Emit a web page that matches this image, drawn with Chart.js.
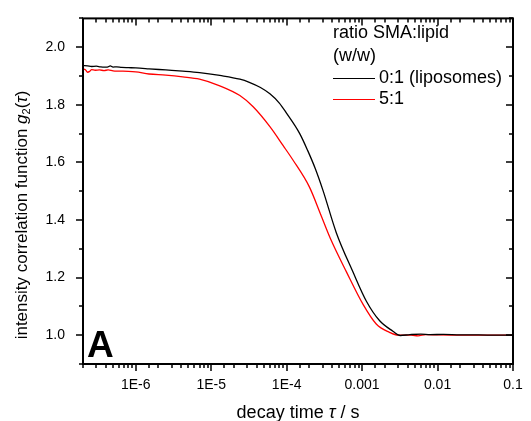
<!DOCTYPE html>
<html>
<head>
<meta charset="utf-8">
<script src="https://cdn.jsdelivr.net/npm/chart.js@4.4.1/dist/chart.umd.min.js"></script>
<style>
  html, body { margin: 0; padding: 0; background: #fff; }
  #wrap { width: 531px; height: 421px; }
</style>
</head>
<body>
<div id="wrap"><canvas id="c"></canvas></div>
<script>
// g2(tau) curves: black = 0:1 (liposomes), red = 5:1
var tauBlack = [2.0e-7, 2.3e-7, 2.6e-7, 3.0e-7, 3.4e-7, 3.8e-7, 4.2e-7, 4.6e-7, 5.0e-7, 5.6e-7,
  6.5e-7, 8e-7, 1.0e-6, 1.5e-6, 2.5e-6, 4.2e-6, 7e-6, 1.3e-5, 2.4e-5, 3.2e-5,
  4.5e-5, 6e-5, 8e-5, 9.9e-5, 1.49e-4, 1.91e-4, 2.4e-4, 3.03e-4, 4.55e-4, 7.55e-4, 1.14e-3,
  1.71e-3, 2.56e-3, 3.2e-3, 4.3e-3, 6e-3, 8e-3, 0.012, 0.02, 0.035, 0.06, 0.1];
var g2Black = [1.936, 1.935, 1.933, 1.934, 1.932, 1.931, 1.931, 1.935, 1.931, 1.932,
  1.930, 1.929, 1.928, 1.925, 1.921, 1.917, 1.912, 1.902, 1.889, 1.878,
  1.860, 1.838, 1.806, 1.772, 1.700, 1.640, 1.578, 1.503, 1.356, 1.220, 1.118,
  1.050, 1.014, 0.999, 1.002, 1.004, 1.002, 1.003, 1.001, 1.001, 1.000, 1.000];

var tauRed = [2.0e-7, 2.15e-7, 2.3e-7, 2.45e-7, 2.6e-7, 2.9e-7, 3.3e-7, 3.8e-7, 4.3e-7, 5e-7,
  6e-7, 8e-7, 1.0e-6, 1.5e-6, 2.5e-6, 4.2e-6, 7e-6, 1.3e-5, 2.4e-5, 3.6e-5,
  6e-5, 9e-5, 1.2e-4, 2.0e-4, 2.8e-4, 3.8e-4, 6.2e-4, 1.03e-3, 1.54e-3, 2.31e-3, 3.0e-3,
  4.5e-3, 5.5e-3, 7e-3, 0.01, 0.02, 0.04, 0.1];
var g2Red = [1.925, 1.922, 1.913, 1.916, 1.922, 1.920, 1.921, 1.919, 1.921, 1.918,
  1.917, 1.916, 1.914, 1.907, 1.903, 1.897, 1.889, 1.866, 1.832, 1.793,
  1.724, 1.658, 1.610, 1.515, 1.422, 1.336, 1.220, 1.107, 1.039, 1.010, 1.000,
  1.000, 0.998, 1.002, 1.001, 1.000, 1.000, 1.000];

var seriesLabels = ['0:1 (liposomes)', '5:1'];
var seriesColors = ['#000000', '#ff0000'];
var legendTitle = ['ratio SMA:lipid', '(w/w)'];

var xDecades = [1e-6, 1e-5, 1e-4, 1e-3, 1e-2, 1e-1];
var xTickLabels = ['1E-6', '1E-5', '1E-4', '0.001', '0.01', '0.1'];
var yTickLabels = ['1.0', '1.2', '1.4', '1.6', '1.8', '2.0'];

var X_MIN = 2e-7, X_MAX = 0.1, Y_MIN = 0.9, Y_MAX = 2.1;
var FONT = "'Liberation Sans', Arial, sans-serif";

function toPoints(xs, ys) {
  var out = [];
  for (var i = 0; i < xs.length; i++) out.push({ x: xs[i], y: ys[i] });
  return out;
}

function isDecade(v) {
  var l = Math.log10(v);
  return Math.abs(l - Math.round(l)) < 1e-6;
}

function drawParts(g, parts, cx, cy) {
  var total = 0;
  parts.forEach(function (p) { g.font = p.f; total += g.measureText(p.t).width; });
  var x = cx - total / 2;
  g.textAlign = 'left';
  g.textBaseline = 'middle';
  parts.forEach(function (p) {
    g.font = p.f;
    g.fillText(p.t, x, cy + (p.dy || 0));
    x += g.measureText(p.t).width;
  });
}

// frame, mirrored ticks, axis titles, legend and panel letter
var decorPlugin = {
  id: 'decor',
  afterDraw: function (chart) {
    var g = chart.ctx;
    var a = chart.chartArea;
    var xs = chart.scales.x, ys = chart.scales.y;
    g.save();
    g.strokeStyle = '#000000';
    g.lineWidth = 2;
    g.strokeRect(a.left, a.top, a.right - a.left, a.bottom - a.top);

    g.lineWidth = 1.5;
    xs.ticks.forEach(function (t) {
      var v = t.value;
      if (v < X_MIN || v > X_MAX) return;
      var px = Math.round(xs.getPixelForValue(v));
      var len = isDecade(v) ? 7 : 4;
      g.beginPath();
      g.moveTo(px, a.bottom); g.lineTo(px, a.bottom + len);
      g.moveTo(px, a.top); g.lineTo(px, a.top + len);
      g.stroke();
    });
    ys.ticks.forEach(function (t) {
      var v = t.value;
      if (v < Y_MIN - 1e-9 || v > Y_MAX + 1e-9) return;
      var py = Math.round(ys.getPixelForValue(v));
      var len = Math.round(v * 10) % 2 === 0 ? 7 : 4;
      g.beginPath();
      g.moveTo(a.left, py); g.lineTo(a.left - len, py);
      g.moveTo(a.right, py); g.lineTo(a.right - len, py);
      g.stroke();
    });

    g.fillStyle = '#000';
    drawParts(g, [
      { t: 'decay time ', f: '18px ' + FONT },
      { t: '\u03c4', f: 'italic 18px ' + FONT },
      { t: ' / s', f: '18px ' + FONT }
    ], (a.left + a.right) / 2, 413);

    g.save();
    g.translate(22, 215);
    g.rotate(-Math.PI / 2);
    drawParts(g, [
      { t: 'intensity correlation function ', f: '17px ' + FONT },
      { t: 'g', f: 'italic 17px ' + FONT },
      { t: '2', f: '11px ' + FONT, dy: 5 },
      { t: '(', f: '17px ' + FONT },
      { t: '\u03c4', f: 'italic 17px ' + FONT },
      { t: ')', f: '17px ' + FONT }
    ], 0, 0);
    g.restore();

    // legend inside plot
    g.textBaseline = 'middle';
    g.textAlign = 'left';
    g.font = '18px ' + FONT;
    g.fillText(legendTitle[0], 333, 33);
    g.fillText(legendTitle[1], 333, 56);
    var rows = [78, 99];
    for (var i = 0; i < seriesLabels.length; i++) {
      g.strokeStyle = seriesColors[i];
      g.lineWidth = 1.2;
      g.beginPath();
      g.moveTo(333, rows[i] + 0.5);
      g.lineTo(375, rows[i] + 0.5);
      g.stroke();
      g.fillText(seriesLabels[i], 379, rows[i]);
    }

    g.font = 'bold 37px ' + FONT;
    g.textBaseline = 'alphabetic';
    g.fillText('A', 87, 357);
    g.restore();
  }
};

new Chart(document.getElementById('c'), {
  type: 'line',
  data: {
    datasets: [
      {
        label: seriesLabels[1],
        data: toPoints(tauRed, g2Red),
        borderColor: seriesColors[1],
        borderWidth: 1.3,
        pointRadius: 0,
        cubicInterpolationMode: 'monotone',
        fill: false,
        order: 2
      },
      {
        label: seriesLabels[0],
        data: toPoints(tauBlack, g2Black),
        borderColor: seriesColors[0],
        borderWidth: 1.3,
        pointRadius: 0,
        cubicInterpolationMode: 'monotone',
        fill: false,
        order: 1
      }
    ]
  },
  options: {
    responsive: true,
    maintainAspectRatio: false,
    animation: false,
    layout: { padding: { left: 0, right: 18, top: 12, bottom: 0 } },
    plugins: {
      legend: { display: false },
      tooltip: { enabled: false }
    },
    scales: {
      x: {
        type: 'logarithmic',
        min: X_MIN,
        max: X_MAX,
        grid: { display: false },
        border: { display: false },
        ticks: {
          autoSkip: false,
          maxRotation: 0,
          padding: 5,
          color: '#000',
          font: { family: FONT, size: 14 },
          callback: function (value) {
            for (var i = 0; i < xDecades.length; i++) {
              if (Math.abs(Math.log10(value) - Math.log10(xDecades[i])) < 1e-6) return xTickLabels[i];
            }
            return '';
          }
        },
        afterFit: function (scale) { scale.height = 57; }
      },
      y: {
        type: 'linear',
        min: Y_MIN,
        max: Y_MAX,
        grid: { display: false },
        border: { display: false },
        ticks: {
          stepSize: 0.1,
          autoSkip: false,
          padding: 10,
          color: '#000',
          font: { family: FONT, size: 14 },
          callback: function (value) {
            var s = Number(value).toFixed(1);
            return yTickLabels.indexOf(s) >= 0 ? s : '';
          }
        },
        afterFit: function (scale) { scale.width = 83; }
      }
    }
  },
  plugins: [decorPlugin]
});
</script>
</body>
</html>
